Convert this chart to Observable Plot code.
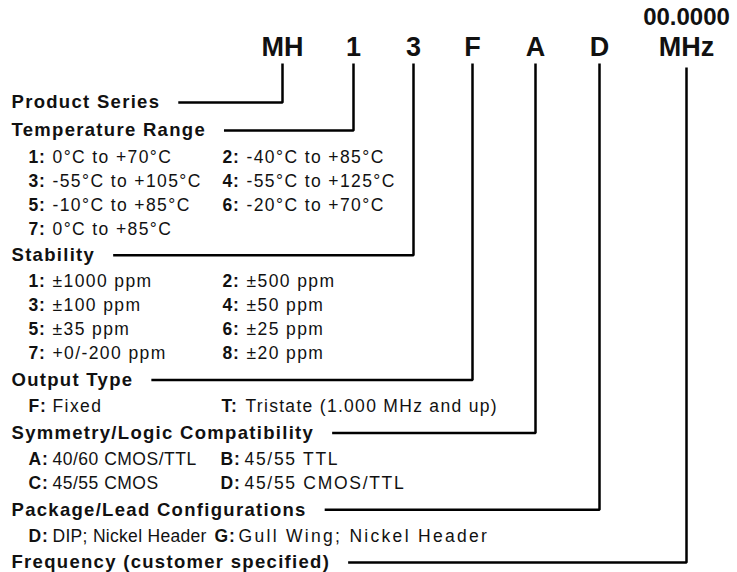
<!DOCTYPE html>
<html><head><meta charset="utf-8">
<script src="https://cdn.jsdelivr.net/npm/d3@7"></script>
<script src="https://cdn.jsdelivr.net/npm/@observablehq/plot@0.6"></script>
<style>body{margin:0;background:#fff} #chart svg{display:block}</style>
</head><body><div id="chart"></div>
<script>
// ---------- data ----------
const codes = ["MH", "1", "3", "F", "A", "D", "MHz"];
const frequencyFormat = "00.0000";
const headers = ["Product Series", "Temperature Range", "Stability", "Output Type",
  "Symmetry/Logic Compatibility", "Package/Lead Configurations", "Frequency (customer specified)"];
const temperatureCodes = ["1", "2", "3", "4", "5", "6", "7"];
const temperatureRanges = ["0°C to +70°C", "-40°C to +85°C", "-55°C to +105°C", "-55°C to +125°C",
  "-10°C to +85°C", "-20°C to +70°C", "0°C to +85°C"];
const stabilityCodes = ["1", "2", "3", "4", "5", "6", "7", "8"];
const stabilityValues = ["±1000 ppm", "±500 ppm", "±100 ppm", "±50 ppm", "±35 ppm", "±25 ppm",
  "+0/-200 ppm", "±20 ppm"];
const outputCodes = ["F", "T"];
const outputTypes = ["Fixed", "Tristate (1.000 MHz and up)"];
const symmetryCodes = ["A", "B", "C", "D"];
const symmetryValues = ["40/60 CMOS/TTL", "45/55 TTL", "45/55 CMOS", "45/55 CMOS/TTL"];
const packageCodes = ["D", "G"];
const packageValues = ["DIP; Nickel Header", "Gull Wing; Nickel Header"];

// ---------- layout ----------
const W = 737, H = 572;
const FONT = '"Liberation Sans", Arial, Helvetica, sans-serif';
const codeX = [282, 353, 413, 472, 535, 599, 686];
const codeRowY = 46.5, freqRowY = 16.5, lineTop = 63, lineTopLast = 67;
const headerX = 11, col1X = 28, valueOffset = 24, connectorGap = 18;
const headerSize = 18.5, headerLS = 1.3, itemSize = 17.5, labelLS = 0.8;

// per group: second column x and letter spacing of the descriptions (per column)
const groups = [
  {codes: [], values: [], col2: 222, ls: [1.4, 1.4]},
  {codes: temperatureCodes, values: temperatureRanges, col2: 222, ls: [1.4, 1.4]},
  {codes: stabilityCodes, values: stabilityValues, col2: 222, ls: [1.4, 1.4]},
  {codes: outputCodes, values: outputTypes, col2: 221, ls: [1.4, 1.3]},
  {codes: symmetryCodes, values: symmetryValues, col2: 220, ls: [0.5, 1.7]},
  {codes: packageCodes, values: packageValues, col2: 214, ls: [0.3, 2.3]},
  {codes: [], values: [], col2: 222, ls: [1.4, 1.4]}
];

const ctx = document.createElement("canvas").getContext("2d");
function textWidth(t, size, weight, ls) {
  ctx.font = `${weight} ${size}px ${FONT}`;
  return ctx.measureText(t).width + ls * t.length;
}

const headerRows = [], labelRows = [], valueRows = [], connectors = [];
let y = 102, prev = null;
groups.forEach((g, gi) => {
  if (gi > 0) y += prev === "h" ? 28 : 26.4;
  headerRows.push({text: headers[gi], x: headerX, y});
  const start = headerX + textWidth(headers[gi], headerSize, "bold", headerLS) + connectorGap;
  const top = gi === codes.length - 1 ? lineTopLast : lineTop;
  connectors.push({g: gi, x: start, y}, {g: gi, x: codeX[gi], y}, {g: gi, x: codeX[gi], y: top});
  prev = "h";
  for (let i = 0; i < g.codes.length; i += 2) {
    y += prev === "h" ? 26.4 : 24;
    [i, i + 1].forEach((k, c) => {
      if (k >= g.codes.length) return;
      const x = c === 0 ? col1X : g.col2;
      labelRows.push({text: g.codes[k] + ":", x, y});
      valueRows.push({text: g.values[k], x: x + valueOffset, y, ls: g.ls[c]});
    });
    prev = "i";
  }
});

const codeRows = codes.map((c, i) => ({text: c, x: codeX[i], y: codeRowY}));

const chart = Plot.plot({
  width: W, height: H,
  margin: 0,
  x: {domain: [0, W], range: [0, W], axis: null},
  y: {domain: [0, H], range: [0, H], axis: null},
  style: {fontFamily: FONT, background: "#fff"},
  marks: [
    Plot.line(connectors, {x: "x", y: "y", z: "g", stroke: "#000", strokeWidth: 2.5,
      strokeLinejoin: "miter", strokeLinecap: "butt"}),
    Plot.text(codeRows, {x: "x", y: "y", text: "text", fontSize: 27, fontWeight: "bold",
      fill: "#111", fontFamily: FONT}),
    Plot.text([frequencyFormat], {x: codeX[codeX.length - 1], y: freqRowY, text: d => d,
      fontSize: 24, fontWeight: "bold", fill: "#111", fontFamily: FONT}),
    Plot.text(headerRows, {x: "x", y: "y", text: "text", textAnchor: "start", fontSize: headerSize,
      fontWeight: "bold", fill: "#111", fontFamily: FONT}),
    Plot.text(labelRows, {x: "x", y: "y", text: "text", textAnchor: "start", fontSize: itemSize,
      fontWeight: "bold", fill: "#111", fontFamily: FONT}),
    Plot.text(valueRows, {x: "x", y: "y", text: "text", textAnchor: "start", fontSize: itemSize,
      fill: "#111", fontFamily: FONT})
  ]
});
const textGroups = chart.querySelectorAll('g[aria-label="text"]');
const spacing = [() => 0, () => 0, () => headerLS, () => labelLS, i => valueRows[i].ls];
textGroups.forEach((g, gi) => {
  g.querySelectorAll("text").forEach((t, i) => t.setAttribute("letter-spacing", spacing[gi](i)));
});
document.getElementById("chart").append(chart);
</script>
</body></html>
